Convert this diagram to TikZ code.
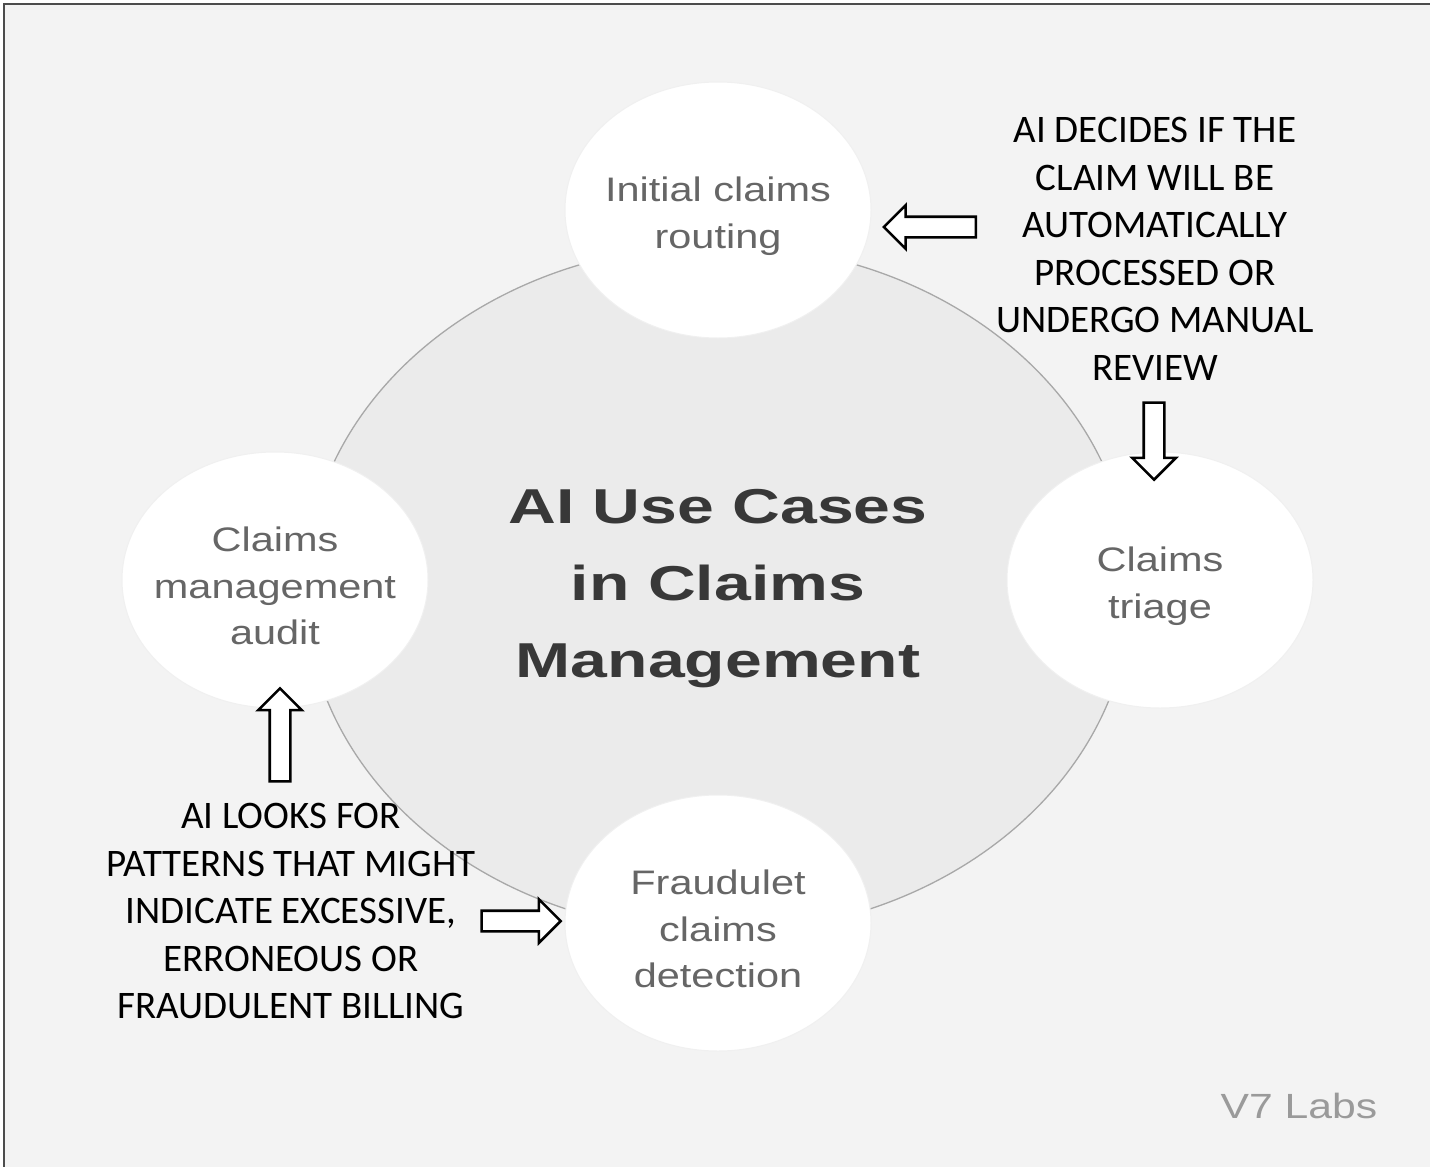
\documentclass[tikz,border=0pt]{standalone}
\usepackage{xcolor}
\usepackage{fontspec}
\setmainfont{Liberation Sans}
\newfontfamily\bubfont[FakeStretch=1.22]{Liberation Sans}
\newfontfamily\headfont[FakeStretch=1.35]{Liberation Sans}
\newfontfamily\notefont{Carlito}
\usepackage{tikz}
\usetikzlibrary{shapes.geometric, shapes.arrows, positioning}

\definecolor{bggray}{HTML}{F3F3F3}
\definecolor{hubfill}{HTML}{EBEBEB}
\definecolor{hubline}{HTML}{A8A8A8}
\definecolor{bubtxt}{HTML}{666666}
\definecolor{titletxt}{HTML}{383838}
\definecolor{marktxt}{HTML}{9A9A9A}

\begin{document}
\begin{tikzpicture}[x=1pt, y=-1pt,
    hub/.style={ellipse, fill=hubfill, draw=hubline, line width=1.3pt, minimum width=826pt, minimum height=688pt, inner sep=0pt, align=center, text=titletxt, font=\headfont\bfseries\fontsize{49}{77}\selectfont},
    bubble/.style={ellipse, fill=white, draw=black!6, line width=1pt, minimum width=306pt, minimum height=256pt, inner sep=0pt},
    bubtext/.style={align=center, text=bubtxt, yshift=-6pt, font=\bubfont\fontsize{34}{46.5}\selectfont},
    note/.style={align=center, text=black, font=\notefont\fontsize{39}{47.5}\selectfont},
    blockarrow/.style={single arrow, draw=black, fill=white, line width=2.6pt, inner sep=9pt, single arrow head extend=11.5pt, single arrow tip angle=90, minimum height=#1}
]

\useasboundingbox (0,0) rectangle (1430,1167);
\fill[white] (0,0) rectangle (1430,1167);
\fill[bggray] (4,4) rectangle (1430,1167);
\draw[black!70, line width=2pt] (4,1167) -- (4,4) -- (1430,4);

\node[hub] (hub) at (718,589) {AI Use Cases\\in Claims\\Management};

\node[bubble, label={[bubtext]center:Initial claims\\routing}] (routing) at (718,210) {};
\node[bubble, label={[bubtext]center:Claims\\triage}] (triage) at (1160,580) {};
\node[bubble, label={[bubtext]center:Claims\\management\\audit}] (audit) at (275,580) {};
\node[bubble, label={[bubtext]center:Fraudulet\\claims\\detection}] (fraud) at (718,923) {};

\node[note] (decides) at (1155,249) {AI DECIDES IF THE\\CLAIM WILL BE\\AUTOMATICALLY\\PROCESSED OR\\UNDERGO MANUAL\\REVIEW};
\node[note] (looks) at (291,911) {AI LOOKS FOR\\PATTERNS THAT MIGHT\\INDICATE EXCESSIVE,\\ERRONEOUS OR\\FRAUDULENT BILLING};

\node[blockarrow=92, shape border rotate=180] (toRouting) at (935,227) {};
\node[blockarrow=77, shape border rotate=270] (toTriage) at (1154,436) {};
\node[blockarrow=93, shape border rotate=90] (toAudit) at (280,740) {};
\node[blockarrow=79] (toFraud) at (516,921) {};

\node[text=marktxt, font=\bubfont\fontsize{35}{42}\selectfont] (brand) at (1299,1106) {V7 Labs};

\end{tikzpicture}
\end{document}
